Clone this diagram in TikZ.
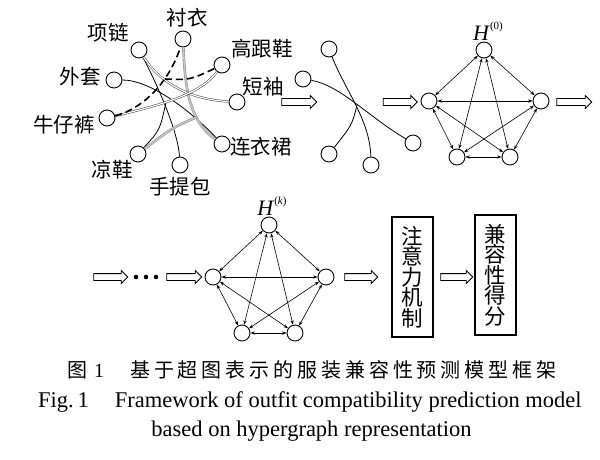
\documentclass[tikz,border=0pt]{standalone}
\usepackage{fontspec}
\setmainfont{Liberation Serif}
\newfontfamily\cjk{Noto Sans CJK SC}
\newfontfamily\cjksp[LetterSpace=19.5]{Noto Sans CJK SC}
\usetikzlibrary{arrows.meta,shapes.arrows}
\begin{document}
\begin{tikzpicture}[x=1pt,y=-1pt]
\tikzset{
  vtx/.style={circle, draw, minimum size=16pt, inner sep=0pt, line width=0.9pt},
  lbl/.style={font=\cjk\fontsize{20.5}{22}\selectfont, inner sep=0pt},
  hollow/.style={single arrow, draw, line width=0.9pt, minimum height=#1, inner sep=3pt, single arrow head extend=3pt},
  thn/.style={line width=0.8pt},
  gry/.style={double=gray!45, draw=gray!85, double distance=1.4pt, line width=0.6pt},
  dbl/.style={double, draw=black!75, double distance=1.2pt, line width=0.5pt},
  dsh/.style={line width=1.6pt, dash pattern=on 7pt off 4pt},
  pe/.style={line width=0.6pt, {Stealth[length=4.5pt,width=3.2pt]}-{Stealth[length=4.5pt,width=3.2pt]}},
  boxv/.style={draw, line width=1.8pt, minimum width=41pt, minimum height=120pt, inner sep=0pt, align=center, font=\cjk\fontsize{21.5}{20.5}\selectfont},
  hlab/.style={inner sep=0pt, font=\fontsize{22}{22}\selectfont}
}
\useasboundingbox (0,0) rectangle (600,460);

% ---------- first hypergraph ----------
\node[vtx] (shirt)  at (183,39) {};
\node[vtx] (neck)   at (139,50) {};
\node[vtx] (heel)   at (222,65) {};
\node[vtx] (coat)   at (114,80) {};
\node[vtx] (sleeve) at (237,102) {};
\node[vtx] (jeans)  at (107,118) {};
\node[vtx] (dress)  at (222,144) {};
\node[vtx] (sandal) at (138,154) {};
\node[vtx] (bag)    at (180,165) {};

\node[lbl] (lshirt)  at (187,18)  {衬衣};
\node[lbl] (lneck)   at (108,33)  {项链};
\node[lbl] (lheel)   at (262,49)  {高跟鞋};
\node[lbl] (lcoat)   at (80,77)   {外套};
\node[lbl] (lsleeve) at (263,87)  {短袖};
\node[lbl] (ljeans)  at (64,125)  {牛仔裤};
\node[lbl] (ldress)  at (261,147) {连衣裙};
\node[lbl] (lsandal) at (112,170) {凉鞋};
\node[lbl] (lbag)    at (180,187) {手提包};

\coordinate (c1) at (166,102);
\coordinate (c2) at (197,117);
\coordinate (c3) at (165,79);

% thin hyperedge
\draw[thn] (neck) .. controls (155,80) and (178,130) .. (bag);
\draw[thn] (coat) .. controls (150,80) and (190,110) .. (dress);
\draw[thn] (sandal) .. controls (160,130) .. (c1);
% gray hyperedge
\draw[gry] (shirt) .. controls (185,85) and (188,120) .. (dress);
\draw[gry] (sandal) .. controls (172,128) .. (c2);
% double hyperedge
\draw[dbl] (neck) .. controls (165,90) and (200,100) .. (sleeve);
\draw[dbl] (jeans) .. controls (160,105) and (200,95) .. (heel);
% dashed hyperedge
\draw[dsh] (jeans) .. controls (145,108) and (170,80) .. (shirt);
\draw[dsh] (c3) .. controls (190,80) .. (heel);

\node[hollow=35pt] (ar1) at (297.5,102) {};

% ---------- single hyperedge ----------
\node[vtx] (mtop)   at (329,49) {};
\node[vtx] (mleft)  at (303,79) {};
\node[vtx] (mbl)    at (329,154) {};
\node[vtx] (mbot)   at (371,165) {};
\node[vtx] (mright) at (413,143) {};
\coordinate (mc) at (357,105);
\draw[thn] (mtop) .. controls (345,90) and (370,120) .. (mbot);
\draw[thn] (mleft) .. controls (340,85) and (370,118) .. (mright);
\draw[thn] (mbl) .. controls (352,125) .. (mc);

\node[hollow=34pt] (ar2) at (398.5,102) {};

% ---------- H(0) ----------
\node[vtx] (p0) at (484,50) {};
\node[vtx] (p1) at (541,101) {};
\node[vtx] (p2) at (510,157) {};
\node[vtx] (p3) at (457,157) {};
\node[vtx] (p4) at (429,101) {};
\node[hlab] (h0) at (488,31) {\textit{H}\raisebox{0.48em}{\fontsize{11}{11}\selectfont(0)}};
\foreach \a/\b in {p0/p1,p0/p2,p0/p3,p0/p4,p1/p2,p1/p3,p1/p4,p2/p3,p2/p4,p3/p4}
  \draw[pe] (\a) -- (\b);

\node[hollow=35pt] (ar3) at (572.5,102) {};

% ---------- second row ----------
\node[hollow=34pt] (ar4) at (109,277) {};
\fill (136,277) circle (2.3pt);
\fill (146,277) circle (2.3pt);
\fill (156,277) circle (2.3pt);
\node[hollow=35pt] (ar5) at (182.5,277) {};

\node[vtx] (q0) at (269,225) {};
\node[vtx] (q1) at (326,277) {};
\node[vtx] (q2) at (295,333) {};
\node[vtx] (q3) at (242,333) {};
\node[vtx] (q4) at (213,277) {};
\node[hlab] (hk) at (272,206) {\textit{H}\raisebox{0.48em}{\fontsize{11}{11}\selectfont(\textit{k})}};
\foreach \a/\b in {q0/q1,q0/q2,q0/q3,q0/q4,q1/q2,q1/q3,q1/q4,q2/q3,q2/q4,q3/q4}
  \draw[pe] (\a) -- (\b);

\node[hollow=33pt] (ar6) at (359.5,277) {};
\node[boxv] (att) at (412.5,277) {注\\意\\力\\机\\制};
\node[hollow=32pt] (ar7) at (455,277) {};
\node[boxv] (score) at (495.5,275) {兼\\容\\性\\得\\分};

% ---------- caption ----------
\node[anchor=base west, inner sep=0pt] (capa) at (67,377) {\cjk\fontsize{20}{20}\selectfont 图\hspace{7pt}\rmfamily 1};
\node[anchor=base west, inner sep=0pt] (capb) at (130,377) {\cjksp\fontsize{20}{20}\selectfont 基于超图表示的服装兼容性预测模型框架};
\node[anchor=base west, inner sep=0pt] (capc) at (38,407) {\fontsize{22.5}{22.5}\selectfont Fig.\,1\hspace{26pt}Framework of outfit compatibility prediction model};
\node[anchor=base, inner sep=0pt] (capd) at (311.5,436) {\fontsize{22.5}{22.5}\selectfont based on hypergraph representation};
\end{tikzpicture}
\end{document}
